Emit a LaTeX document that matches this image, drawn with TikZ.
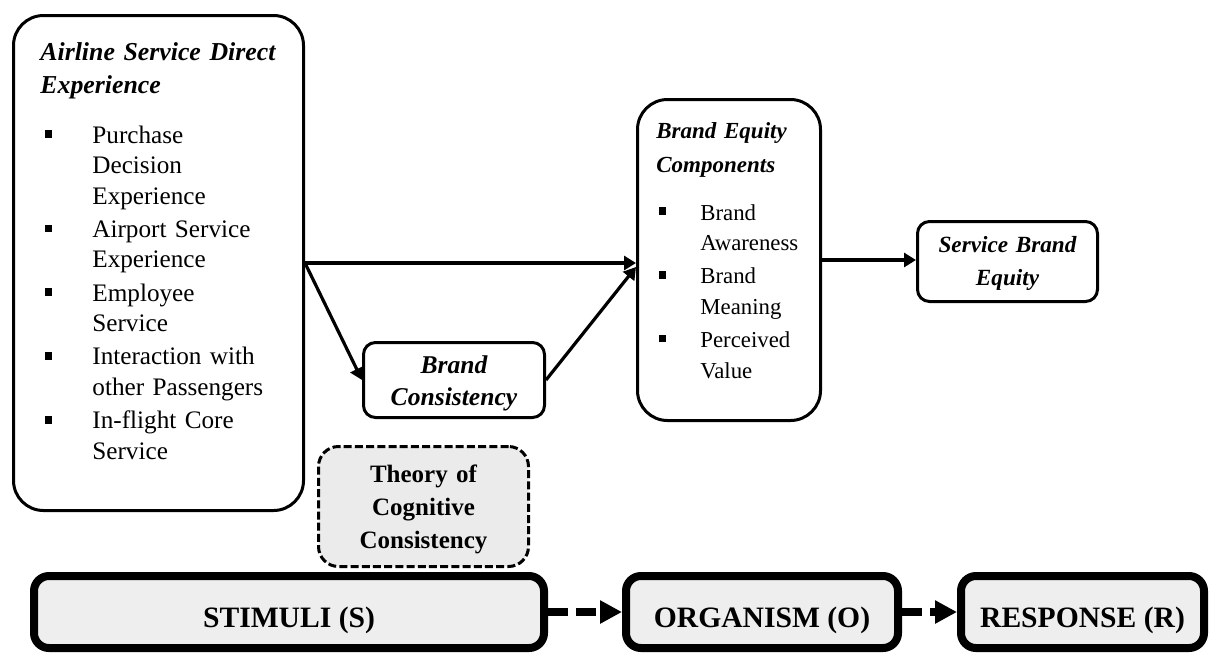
\documentclass[tikz,border=0pt]{standalone}
\usepackage{fontspec}
\setmainfont{Liberation Serif}
\usetikzlibrary{arrows.meta,calc}
\definecolor{srfill}{HTML}{EEEEEE}
\definecolor{thfill}{HTML}{EBEBEB}
\newcommand{\bul}[1]{\leavevmode\llap{\rule[2.6pt]{3.6pt}{3.8pt}\hspace{#1}}\ignorespaces}
\begin{document}
\begin{tikzpicture}[x=0.5pt,y=-0.5pt,
  bigbox/.style={draw, line width=1.5pt, fill=white, inner sep=0pt, rounded corners=15pt},
  midbox/.style={draw, line width=1.5pt, fill=white, inner sep=0pt, rounded corners=6pt},
  srbox/.style={draw, line width=4pt, fill=srfill, inner sep=0pt, rounded corners=7.5pt},
  thbox/.style={draw, line width=1.5pt, dash pattern=on 4pt off 1.6pt, fill=thfill, inner sep=0pt, rounded corners=10pt},
  ltxt/.style={inner sep=0pt, anchor=base west, align=left},
  ctxt/.style={inner sep=0pt, anchor=base, align=center},
  conn/.style={line width=1.6pt, -{Triangle[length=6pt,width=7pt]}},
  sconn/.style={line width=4pt, dash pattern=on 10pt off 4pt, -{Triangle[length=11pt,width=11pt]}}
]
\useasboundingbox (0,0) rectangle (1215,655);

% boxes
\node[bigbox, minimum width=145pt, minimum height=247.5pt] (ased) at (158.5,263) {};
\node[bigbox, minimum width=91.5pt, minimum height=160.5pt] (bec) at (729,260) {};
\node[midbox, minimum width=90pt, minimum height=40pt] (sbe) at (1007.5,261.5) {};
\node[midbox, minimum width=90.5pt, minimum height=37.5pt] (bc) at (454,380) {};
\node[thbox, minimum width=105pt, minimum height=60pt] (th) at (423.5,506.5) {};
\node[srbox, minimum width=255pt, minimum height=36pt] (stim) at (289,612) {};
\node[srbox, minimum width=136pt, minimum height=36pt] (org) at (762,612) {};
\node[srbox, minimum width=121.5pt, minimum height=36pt] (resp) at (1082.5,612) {};

% texts
\node[ltxt, text width=140pt, font=\fontsize{12.9pt}{16.5pt}\selectfont\bfseries\itshape] (ased-t) at (40,60)
  {Airline Service Direct\\Experience};
\node[ltxt, text width=100pt, font=\fontsize{12.6pt}{15.25pt}\selectfont] (ased-l) at (92,143)
  {\bul{20pt}Purchase\\Decision\\Experience\\[1.4pt]
   \bul{20pt}Airport Service\\Experience\\[1.4pt]
   \bul{20pt}Employee\\Service\\[1.4pt]
   \bul{20pt}Interaction with\\other Passengers\\[1.4pt]
   \bul{20pt}In-flight Core\\Service};
\node[ltxt, text width=80pt, font=\fontsize{11.5pt}{17pt}\selectfont\bfseries\itshape] (bec-t) at (656,138)
  {Brand Equity\\Components};
\node[ltxt, text width=60pt, font=\fontsize{11.4pt}{15.25pt}\selectfont] (bec-l) at (700,220)
  {\bul{17pt}Brand\\Awareness\\[1.4pt]
   \bul{17pt}Brand\\Meaning\\[1.4pt]
   \bul{17pt}Perceived\\Value};
\node[ctxt, text width=85pt, font=\fontsize{12.8pt}{16pt}\selectfont\bfseries\itshape] (bc-t) at (454,373)
  {Brand\\Consistency};
\node[ctxt, text width=85pt, font=\fontsize{11.6pt}{16.5pt}\selectfont\bfseries\itshape] (sbe-t) at (1007.5,252)
  {Service Brand\\Equity};
\node[ctxt, text width=100pt, font=\fontsize{12.5pt}{16.5pt}\selectfont\bfseries] (th-t) at (423.5,482)
  {Theory of\\Cognitive\\Consistency};
\node[ctxt, font=\fontsize{14.8pt}{17pt}\selectfont\bfseries] (stim-t) at (289,627) {STIMULI (S)};
\node[ctxt, font=\fontsize{14.8pt}{17pt}\selectfont\bfseries] (org-t) at (762,627) {ORGANISM (O)};
\node[ctxt, font=\fontsize{14.8pt}{17pt}\selectfont\bfseries] (resp-t) at (1082.5,627) {RESPONSE (R)};

% connectors
\draw[conn] (ased.east) -- (ased.east -| bec.west);
\draw[conn] (ased.east) -- (bc.west);
\draw[conn] (bc.east) -- ($(bec.west)+(0,7)$);
\draw[conn] (bec.east) -- (bec.east -| sbe.west);
\draw[sconn] (stim.east) -- (org.west);
\draw[sconn] (org.east) -- (resp.west);
\end{tikzpicture}
\end{document}
